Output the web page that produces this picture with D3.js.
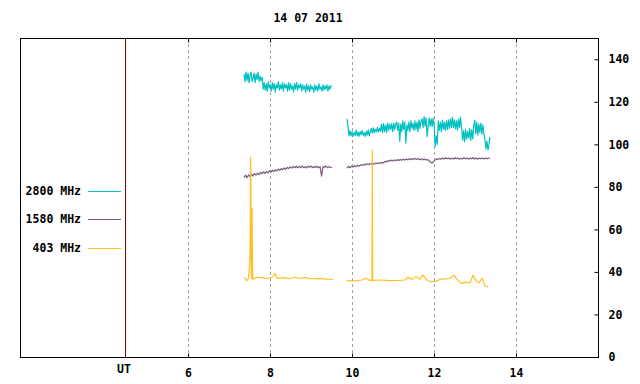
<!DOCTYPE html>
<html><head><meta charset="utf-8">
<script src="https://cdn.jsdelivr.net/npm/d3@7"></script>
<style>
body{margin:0;background:#fff;}
text{font-family:"DejaVu Sans Mono",monospace;font-weight:bold;font-size:11.5px;fill:#000;}
</style></head><body>
<svg id="c" width="640" height="384"></svg>
<script>
const title = "14 07 2011";
const xTicks = [6, 8, 10, 12, 14];
const yTicks = [0, 20, 40, 60, 80, 100, 120, 140];
const utTime = 4.46;
const legendLabels = ["2800 MHz", "1580 MHz", "403 MHz"];
const colors = ["#00c0c0", "#7a5a7c", "#ffc020"];

// 2800 MHz (uniform sampling between start/end times)
const t2800a = [7.364, 9.511];
const v2800a = [133,129.5,134,130,133.5,129,132.5,134,129.5,131,133.5,129,133,130.5,134,129.5,132,130,131.5,
 126,129,125.5,128.5,125,129.5,126.5,128,125,129,126,128.5,124.5,128,126.5,129.5,125.5,128,126,129,125,128.5,126.5,128,125,129,125.5,128.5,126,127.5,124.5,128.5,126,129,125.5,128,126.5,128.5,
 125,128,126,127.5,124.5,128.5,125.5,127.5,124.8,128,126,127,124.5,128,125.5,127.5,125,128.5,126,127,125,128,125.5,127.5,126,128,125,127.5,126,127.5,127.5];
const t2800b = [9.877, 13.365];
const v2800b = [112,108,104,
 106.5,104,106,103.8,105.5,104.2,106.8,104,105.8,103.8,106,104.5,106.5,104.2,105.5,103.6,106.2,104.3,106.8,104,105.9,
 107.5,105.3,107.8,105.5,107,106,108,105.8,107.5,106.2,
 109.5,105.5,109.8,106,109,105.5,110,106.5,109.5,107,109.8,106,110,106.8,109.5,
 110.5,106.5,110,101.5,109.5,106,111,107,110.5,100.5,109,106.5,110.5,106,111,107.5,110,106.5,111,107,110.5,106,111.5,107.5,111,
 112,108,113,108.5,112.5,
 103.6,108,
 112.5,108.5,112,108.3,112.3,109,
 99,104,100,
 111,106.5,110.5,106,111.4,107,110.5,106.5,111,107,111.5,107.5,112,108,112.7,107.8,111.5,107.2,111,106.8,112,108,112.7,
 107.5,102,106.5,101.2,107,102.5,106,103,107.5,101.8,106.8,102.5,
 109,111.4,105,110.5,104.4,109.5,105.5,110,104.8,109.2,105,
 102.5,98,101.5,97.3,100,103.4];

// 1580 MHz
const t1580a = [7.364, 9.511];
const v1580a = [84.5,85.5,84.3,85.6,84.8,85.8,85.2,86.2,85.5,86.4,85.8,86.8,86.2,87,86.4,87.2,86.6,87.5,86.9,87.8,
 87.2,88,87.5,88.4,87.8,88.6,88.1,88.9,88.3,89.1,88.6,89.4,88.8,89.6,89,89.7,88.9,89.6,89.1,89.8,
 89,89.5,88.9,89.7,89.2,89.8,89,89.6,89.1,89.7,89,89.5,85,89.6,89.2,89.8,89,89.5,89.2,89.1];
const t1580b = [9.877, 13.36];
const v1580b = [88.8,89.6,89,89.8,89.3,90,89.5,90.2,89.7,90.4,
 90,90.6,90.2,90.9,90.4,91,90.6,91.1,90.7,91.3,
 90.9,91.4,91,91.6,91.2,92,91.7,92.4,92,92.6,
 92.1,92.7,92.3,92.8,92.4,92.9,92.5,93,92.6,93.1,
 92.7,93.2,92.8,93.3,92.9,93.4,92.9,93.3,92.8,93.2,
 92.7,93.1,92.6,92.9,92.3,91.6,91.2,92,92.6,93.2,
 92.8,93.4,93,93.6,93.1,93.7,93.2,93.6,93,93.5,
 93.1,93.7,93.2,93.6,93,93.5,93.1,93.7,93.2,93.6,
 93,93.5,93.2,93.8,93.1,93.6,93,93.5,93.2,93.6,
 93.1,93.5,93.2,93.6,93.3];

// 403 MHz (time, value)
const d403a = [[7.364,37.5],[7.430,35.9],[7.474,37],[7.511,46],[7.528,94],[7.543,37],[7.559,70],[7.577,36.5],
 [7.681,37.5],[7.828,37.2],[7.950,36.8],[8.047,37.5],[8.120,39.3],[8.169,37],[8.364,37.3],[8.486,36.8],
 [8.608,37.5],[8.730,36.9],[8.852,37.3],[9.023,36.8],[9.218,37],[9.364,36.6],[9.528,36.5]];
const d403b = [[9.870,35.9],[10.072,35.8],[10.243,36.2],[10.340,37],[10.438,36],[10.486,36],[10.494,97.3],[10.504,36],
 [10.682,36.2],[10.926,35.9],[11.121,36],[11.292,36.2],[11.365,37.5],[11.462,36.5],[11.560,37.8],[11.658,36.5],
 [11.731,38.5],[11.828,36.2],[11.926,35.4],[12.048,35.6],[12.146,36.5],[12.292,36.8],[12.390,37],[12.487,38.5],
 [12.560,36.5],[12.658,34.6],[12.780,35.2],[12.877,34.8],[12.950,38.5],[13.024,36],[13.097,34.9],[13.170,37],
 [13.243,33.5],[13.316,33]];

const svg = d3.select("#c");
const L = 20, R = 598, T = 38, B = 357;
const x = d3.scaleLinear().domain([1.9, 16]).range([L, R]);
const y = d3.scaleLinear().domain([0, 150]).range([B, T]);

function uniform(tt, vv) {
  const n = vv.length;
  return vv.map((v, i) => [tt[0] + (tt[1] - tt[0]) * i / (n - 1), v]);
}

// grid
svg.append("g").selectAll("line").data(xTicks).join("line")
  .attr("x1", d => Math.round(x(d)) + 0.5).attr("x2", d => Math.round(x(d)) + 0.5)
  .attr("y1", T).attr("y2", B)
  .attr("stroke", "#a0a0a0").attr("stroke-dasharray", "3,3");

// UT line
svg.append("line").attr("x1", Math.round(x(utTime)) + 0.5).attr("x2", Math.round(x(utTime)) + 0.5)
  .attr("y1", T).attr("y2", B).attr("stroke", "#800000");

// frame
svg.append("rect").attr("x", L + 0.5).attr("y", T + 0.5).attr("width", R - L).attr("height", B - T)
  .attr("fill", "none").attr("stroke", "#000");

// bottom axis
const xb = svg.append("g").attr("transform", `translate(0,${B + 0.5})`)
  .call(d3.axisBottom(x).tickValues(xTicks).tickSize(-4).tickPadding(9).tickFormat(d3.format("d")));
xb.select(".domain").remove();
xb.selectAll(".tick line").attr("stroke", "#000");
xb.selectAll("text").attr("font-size", null).attr("font-family", null).attr("dy", "0.95em");
// top ticks
const xt = svg.append("g").attr("transform", `translate(0,${T + 0.5})`)
  .call(d3.axisTop(x).tickValues(xTicks).tickSize(-4).tickFormat(""));
xt.select(".domain").remove();

// right axis
const yr = svg.append("g").attr("transform", `translate(${R + 0.5},0)`)
  .call(d3.axisRight(y).tickValues(yTicks).tickSize(-4).tickPadding(10));
yr.select(".domain").remove();
yr.selectAll("text").attr("font-size", null).attr("font-family", null);

// UT label
svg.append("text").attr("x", x(utTime) - 1).attr("y", 373).attr("text-anchor", "middle").text("UT");

// title
svg.append("text").attr("x", 308).attr("y", 22).attr("text-anchor", "middle").text(title);

// series
const line = d3.line().x(d => x(d[0])).y(d => y(d[1]));
const series = [
  [uniform(t2800a, v2800a), uniform(t2800b, v2800b)],
  [uniform(t1580a, v1580a), uniform(t1580b, v1580b)],
  [d403a, d403b]
];
const widths = [1.2, 1.2, 1.2];
series.forEach((segs, i) => {
  segs.forEach(s => {
    svg.append("path").attr("d", line(s)).attr("fill", "none")
      .attr("stroke", colors[i]).attr("stroke-width", widths[i]).attr("stroke-linejoin", "round");
  });
});

// legend
const legY = [191, 219, 248];
legendLabels.forEach((lab, i) => {
  svg.append("text").attr("x", 81).attr("y", legY[i]).attr("dy", "0.35em").attr("text-anchor", "end").text(lab);
  svg.append("line").attr("x1", 88).attr("x2", 121).attr("y1", legY[i] + 0.5).attr("y2", legY[i] + 0.5)
    .attr("stroke", colors[i]);
});
</script></body></html>
